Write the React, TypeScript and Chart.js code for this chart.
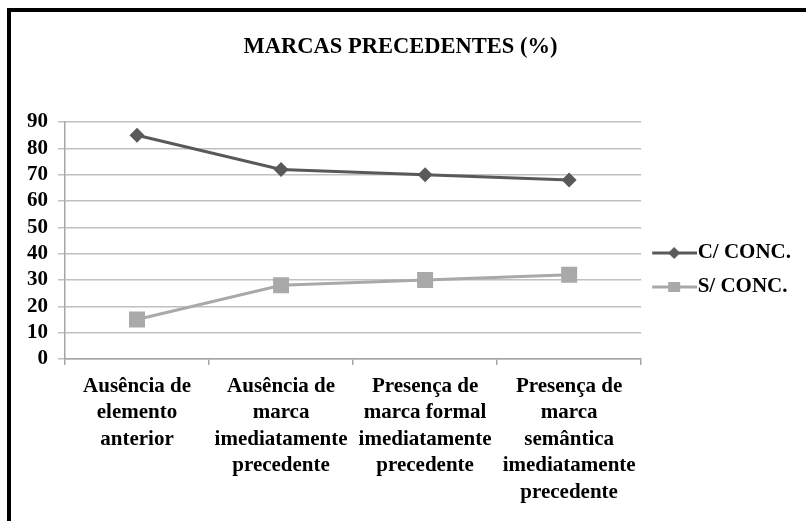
import React, { useEffect, useRef } from 'react';
import { Chart, registerables } from 'chart.js';

Chart.register(...registerables);

const chartTitle = 'MARCAS PRECEDENTES (%)';
const categories: string[][] = [
  ['Ausência de', 'elemento', 'anterior'],
  ['Ausência de', 'marca', 'imediatamente', 'precedente'],
  ['Presença de', 'marca formal', 'imediatamente', 'precedente'],
  ['Presença de', 'marca', 'semântica', 'imediatamente', 'precedente'],
];
const seriesNames = ['C/ CONC.', 'S/ CONC.'];
const comConc = [85, 72, 70, 68];
const semConc = [15, 28, 30, 32];
const yMin = 0;
const yMax = 90;
const yStep = 10;

const FONT = "'Liberation Serif', 'Times New Roman', serif";
const DARK = '#595959';
const LIGHT = '#a9a9a9';

function makeLegendIcon(color: string, shape: 'diamond' | 'square'): HTMLCanvasElement {
  const c = document.createElement('canvas');
  c.width = 53;
  c.height = 20;
  const ctx = c.getContext('2d')!;
  ctx.strokeStyle = color;
  ctx.lineWidth = 3;
  ctx.beginPath();
  ctx.moveTo(8, 10);
  ctx.lineTo(53, 10);
  ctx.stroke();
  ctx.fillStyle = color;
  const cx = 30;
  const cy = 10;
  if (shape === 'diamond') {
    ctx.beginPath();
    ctx.moveTo(cx, cy - 6);
    ctx.lineTo(cx + 6, cy);
    ctx.lineTo(cx, cy + 6);
    ctx.lineTo(cx - 6, cy);
    ctx.closePath();
    ctx.fill();
  } else {
    ctx.fillRect(cx - 6, cy - 5, 12, 10);
  }
  return c;
}

export default function App() {
  const ref = useRef<HTMLCanvasElement | null>(null);

  useEffect(() => {
    if (!ref.current) return;
    const icons = [makeLegendIcon(DARK, 'diamond'), makeLegendIcon(LIGHT, 'square')];
    const chart = new Chart(ref.current, {
      type: 'line',
      data: {
        labels: categories,
        datasets: [
          {
            label: seriesNames[0],
            data: comConc,
            borderColor: DARK,
            backgroundColor: DARK,
            borderWidth: 3,
            pointStyle: 'rectRot',
            pointRadius: 7.5,
            pointBorderWidth: 0,
            pointBackgroundColor: DARK,
            tension: 0,
          },
          {
            label: seriesNames[1],
            data: semConc,
            borderColor: LIGHT,
            backgroundColor: LIGHT,
            borderWidth: 3,
            pointStyle: 'rect',
            pointRadius: 11.3,
            pointBorderWidth: 0,
            pointBackgroundColor: LIGHT,
            tension: 0,
          },
        ],
      },
      options: {
        responsive: false,
        animation: false,
        events: [],
        layout: { padding: { top: 19, bottom: 0, left: 0, right: 5 } },
        plugins: {
          title: {
            display: true,
            text: chartTitle,
            color: '#000',
            font: { family: FONT, size: 22.5, weight: 'bold', lineHeight: 1.2 },
            padding: { top: 15, bottom: 61 },
          },
          legend: {
            position: 'right',
            align: 'center',
            labels: {
              usePointStyle: true,
              pointStyleWidth: 33,
              padding: 13,
              color: '#000',
              font: { family: FONT, size: 21, weight: 'bold' },
              generateLabels: (ch: any) => {
                const items = (Chart as any).defaults.plugins.legend.labels.generateLabels(ch);
                items.forEach((it: any, i: number) => {
                  it.pointStyle = icons[i];
                });
                return items;
              },
            },
          },
          tooltip: { enabled: false },
        },
        scales: {
          x: {
            offset: true,
            grid: {
              offset: true,
              drawOnChartArea: false,
              tickLength: 6,
              color: '#a6a6a6',
              lineWidth: 1.5,
            },
            border: { color: '#a6a6a6', width: 1.5 },
            ticks: {
              maxRotation: 0,
              minRotation: 0,
              autoSkip: false,
              padding: 8,
              color: '#000',
              font: { family: FONT, size: 21, weight: 'bold', lineHeight: 26.5 / 21 },
            },
            afterFit: (s: any) => {
              s.height = 162;
            },
          },
          y: {
            min: yMin,
            max: yMax,
            ticks: {
              stepSize: yStep,
              autoSkip: false,
              padding: 10,
              color: '#000',
              font: { family: FONT, size: 21, weight: 'bold' },
            },
            grid: { color: '#c0c0c0', lineWidth: 1.5, tickLength: 7 },
            border: { color: '#a6a6a6', width: 1.5 },
            afterFit: (s: any) => {
              s.width = 65;
            },
          },
        },
      },
    } as any);
    return () => chart.destroy();
  }, []);

  return (
    <div style={{ position: 'fixed', left: 0, top: 0, width: 806, height: 521, background: '#fff' }}>
      <div
        style={{
          position: 'absolute',
          left: 7,
          top: 8,
          right: 0,
          bottom: 0,
          borderTop: '4px solid #000',
          borderLeft: '4px solid #000',
        }}
      />
      <canvas ref={ref} width={806} height={521} style={{ position: 'absolute', left: 0, top: 0 }} />
    </div>
  );
}
